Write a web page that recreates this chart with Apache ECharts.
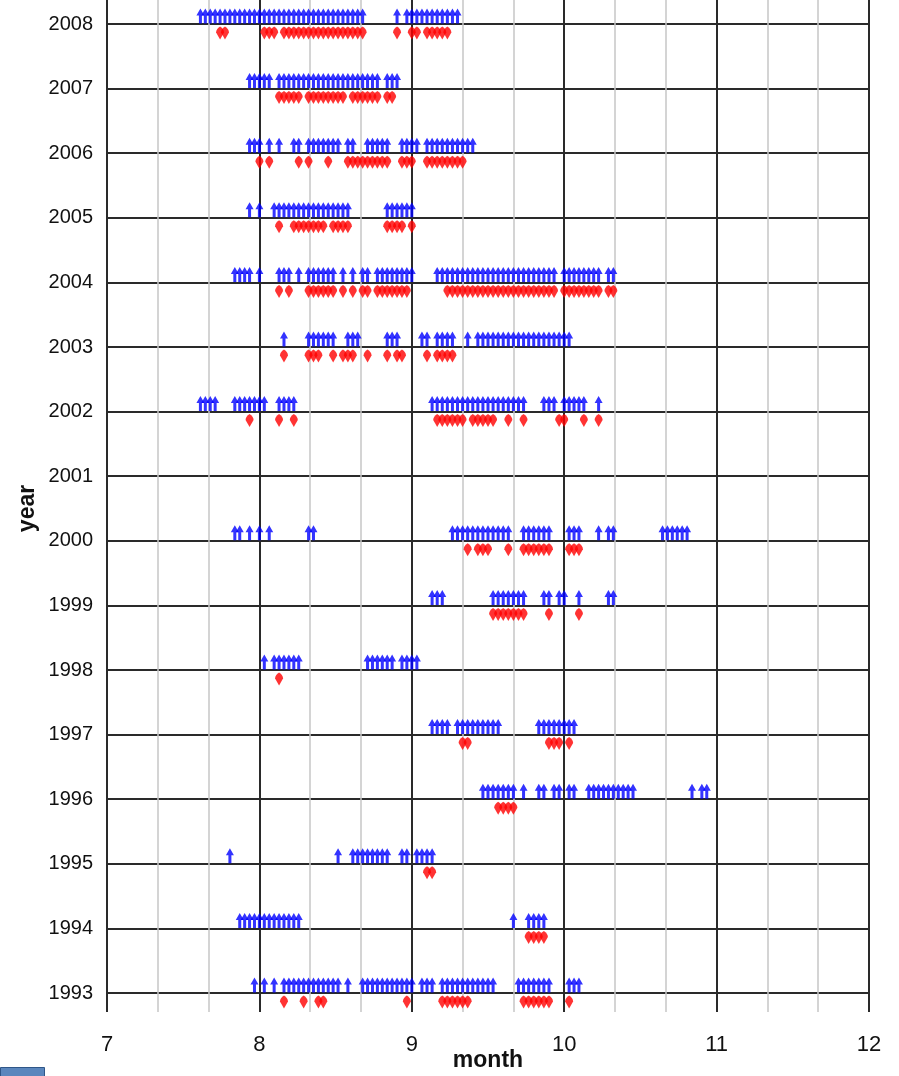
<!DOCTYPE html>
<html>
<head>
<meta charset="utf-8">
<title>year / month</title>
<script src="https://cdn.jsdelivr.net/npm/echarts@6/dist/echarts.min.js"></script>
<style>
  html, body { margin: 0; padding: 0; background: #fff; }
  #main { width: 899px; height: 1076px; }
</style>
</head>
<body>
<div id="main"></div>
<script>
// dates written as MDD (815 = 15 Aug, 1003 = 3 Oct)
// up = blue arrows (above the year line), dn = red diamonds (below it)
var up2008 = [720,721,722,723,724,725,726,727,728,729,730,731,801,802,803,804,805,806,807,808,809,810,811,812,813,814,815,816,817,818,819,820,821,822,829,831,901,902,903,904,905,906,907,908,909,910];
var dn2008 = [724,725,802,803,804,806,807,808,809,810,811,812,813,814,815,816,817,818,819,820,821,822,829,901,902,904,905,906,907,908];
var up2007 = [730,731,801,802,803,805,806,807,808,809,810,811,812,813,814,815,816,817,818,819,820,821,822,823,824,825,827,828,829];
var dn2007 = [805,806,807,808,809,811,812,813,814,815,816,817,818,820,821,822,823,824,825,827,828];
var up2006 = [730,731,801,803,805,808,809,811,812,813,814,815,816,817,819,820,823,824,825,826,827,830,831,901,902,904,905,906,907,908,909,910,911,912,913];
var dn2006 = [801,803,809,811,815,819,820,821,822,823,824,825,826,827,830,831,901,904,905,906,907,908,909,910,911];
var up2005 = [730,801,804,805,806,807,808,809,810,811,812,813,814,815,816,817,818,819,827,828,829,830,831,901];
var dn2005 = [805,808,809,810,811,812,813,814,816,817,818,819,827,828,829,830,901];
var up2004 = [727,728,729,730,801,805,806,807,809,811,812,813,814,815,816,818,820,822,823,825,826,827,828,829,830,831,901,906,907,908,909,910,911,912,913,914,915,916,917,918,919,920,921,922,923,924,925,926,927,928,929,1001,1002,1003,1004,1005,1006,1007,1008,1010,1011];
var dn2004 = [805,807,811,812,813,814,815,816,818,820,822,823,825,826,827,828,829,830,831,908,909,910,911,912,913,914,915,916,917,918,919,920,921,922,923,924,925,926,927,928,929,1001,1002,1003,1004,1005,1006,1007,1008,1010,1011];
var up2003 = [806,811,812,813,814,815,816,819,820,821,827,828,829,903,904,906,907,908,909,912,914,915,916,917,918,919,920,921,922,923,924,925,926,927,928,929,930,1001,1002];
var dn2003 = [806,811,812,813,816,818,819,820,823,827,829,830,904,906,907,908,909];
var up2002 = [720,721,722,723,727,728,729,730,731,801,802,805,806,807,808,905,906,907,908,909,910,911,912,913,914,915,916,917,918,919,920,921,922,923,927,928,929,1001,1002,1003,1004,1005,1008];
var dn2002 = [730,805,808,906,907,908,909,910,911,913,914,915,916,917,920,923,930,1001,1005,1008];
var up2001 = [];
var dn2001 = [];
var up2000 = [727,728,730,801,803,811,812,909,910,911,912,913,914,915,916,917,918,919,920,923,924,925,926,927,928,1002,1003,1004,1008,1010,1011,1021,1022,1023,1024,1025,1026];
var dn2000 = [912,914,915,916,920,923,924,925,926,927,928,1002,1003,1004];
var up1999 = [905,906,907,917,918,919,920,921,922,923,927,928,930,1001,1004,1010,1011];
var dn1999 = [917,918,919,920,921,922,923,928,1004];
var up1998 = [802,804,805,806,807,808,809,823,824,825,826,827,828,830,831,901,902];
var dn1998 = [805];
var up1997 = [905,906,907,908,910,911,912,913,914,915,916,917,918,926,927,928,929,930,1001,1002,1003];
var dn1997 = [911,912,928,929,930,1002];
var up1996 = [915,916,917,918,919,920,921,923,926,927,929,930,1002,1003,1006,1007,1008,1009,1010,1011,1012,1013,1014,1015,1027,1029,1030];
var dn1996 = [918,919,920,921];
var up1995 = [726,817,820,821,822,823,824,825,826,827,830,831,902,903,904,905];
var dn1995 = [904,905];
var up1994 = [728,729,730,731,801,802,803,804,805,806,807,808,809,921,924,925,926,927];
var dn1994 = [924,925,926,927];
var up1993 = [731,802,804,806,807,808,809,810,811,812,813,814,815,816,817,819,822,823,824,825,826,827,828,829,830,831,901,903,904,905,907,908,909,910,911,912,913,914,915,916,917,922,923,924,925,926,927,928,1002,1003,1004];
var dn1993 = [806,810,813,814,831,907,908,909,910,911,912,923,924,925,926,927,928,1002];

var years = [1993,1994,1995,1996,1997,1998,1999,2000,2001,2002,2003,2004,2005,2006,2007,2008];
var upDates = [up1993,up1994,up1995,up1996,up1997,up1998,up1999,up2000,up2001,up2002,up2003,up2004,up2005,up2006,up2007,up2008];
var dnDates = [dn1993,dn1994,dn1995,dn1996,dn1997,dn1998,dn1999,dn2000,dn2001,dn2002,dn2003,dn2004,dn2005,dn2006,dn2007,dn2008];
var monthTicks = [7, 8, 9, 10, 11, 12];

var monthDays = {7: 31, 8: 31, 9: 30, 10: 31, 11: 30};

// date -> fractional month on the x axis
function toMonth(mdd) {
	var m = Math.floor(mdd / 100);
	var d = mdd % 100;
	return m + (d - 1) / monthDays[m];
}

function points(lists) {
	var out = [];
	years.forEach(function (y, i) {
		lists[i].forEach(function (v) {
			out.push([toMonth(v), y]);
		});
	});
	return out;
}

var arrowPath = 'path://M4,0 L8,7 L5.5,7 L5.5,15 L2.5,15 L2.5,7 L0,7 Z';
var dropPath = 'path://M4,0 C6.5,1.5 8,3.5 8,6 L4,13 L0,6 C0,3.5 1.5,1.5 4,0 Z';

var myChart = echarts.init(document.getElementById('main'));

var option = {
	animation: false,
	backgroundColor: '#ffffff',
	textStyle: {
		fontFamily: 'Liberation Sans, Arial, sans-serif'
	},
	grid: [
		{ left: 107, right: 30, top: -20, bottom: 64, outerBoundsMode: 'none' },
		{ left: 107, right: 30, top: 24, bottom: 83, outerBoundsMode: 'none' }
	],
	xAxis: [{
		gridIndex: 0,
		type: 'value',
		min: monthTicks[0],
		max: monthTicks[monthTicks.length - 1],
		interval: 1,
		name: 'month',
		nameLocation: 'middle',
		nameGap: 37,
		nameMoveOverlap: false,
		nameTextStyle: { fontSize: 23, fontWeight: 'bold', color: '#111' },
		axisLine: { show: false },
		axisTick: { show: false },
		axisLabel: { fontSize: 22, color: '#111', margin: 22 },
		splitLine: { show: true, lineStyle: { color: '#2a2a2a', width: 2 } },
		minorTick: { show: false, splitNumber: 3 },
		minorSplitLine: { show: true, lineStyle: { color: '#c6c6c6', width: 1.5 } }
	}, {
		gridIndex: 1,
		type: 'value',
		min: monthTicks[0],
		max: monthTicks[monthTicks.length - 1],
		show: false
	}],
	yAxis: [{
		gridIndex: 0,
		type: 'value',
		min: 0,
		max: 1,
		show: false
	}, {
		gridIndex: 1,
		type: 'value',
		min: years[0],
		max: years[years.length - 1],
		interval: 1,
		name: 'year',
		nameLocation: 'middle',
		nameRotate: 90,
		nameGap: 68,
		nameMoveOverlap: false,
		nameTextStyle: { fontSize: 23, fontWeight: 'bold', color: '#111' },
		axisLine: { show: false },
		axisTick: { show: false },
		axisLabel: {
			fontSize: 20,
			color: '#111',
			margin: 14,
			formatter: function (v) { return String(v); }
		},
		splitLine: { show: true, lineStyle: { color: '#2a2a2a', width: 2 } }
	}],
	graphic: [{
		type: 'rect',
		left: 0,
		top: 1067,
		shape: { width: 44, height: 10 },
		style: { fill: '#5a86bd', stroke: '#2f5688', lineWidth: 1 }
	}],
	series: [{
		name: 'up',
		type: 'scatter',
		xAxisIndex: 1,
		yAxisIndex: 1,
		clip: false,
		silent: true,
		symbol: arrowPath,
		symbolSize: [8, 15],
		symbolOffset: [0, -8],
		itemStyle: { color: '#0000ff' },
		data: points(upDates)
	}, {
		name: 'down',
		type: 'scatter',
		xAxisIndex: 1,
		yAxisIndex: 1,
		clip: false,
		silent: true,
		symbol: dropPath,
		symbolSize: [8, 13],
		symbolOffset: [0, 9],
		itemStyle: { color: '#ff0000' },
		data: points(dnDates)
	}]
};

myChart.setOption(option);
</script>
</body>
</html>
